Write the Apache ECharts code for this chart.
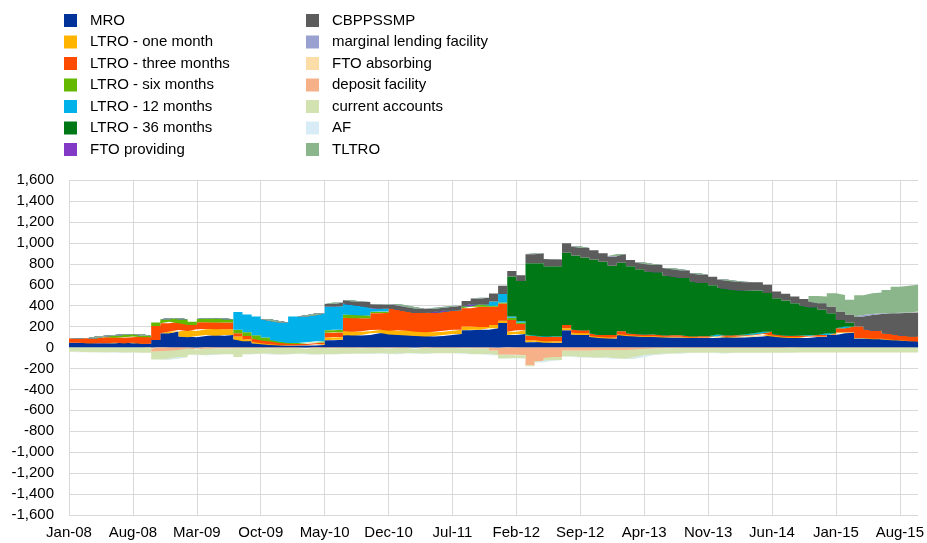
<!DOCTYPE html>
<html>
<head>
<meta charset="utf-8">
<title>liquidity</title>
<script src="https://cdn.jsdelivr.net/npm/echarts@6/dist/echarts.min.js"></script>
<style>
    html, body { margin: 0; padding: 0; background: #fff; }
    #main { width: 927px; height: 543px; }
</style>
</head>
<body>
<div id="main"></div>
<script>
// month categories Jan-08 .. Oct-15
let monthNames = ['Jan', 'Feb', 'Mar', 'Apr', 'May', 'Jun', 'Jul', 'Aug', 'Sep', 'Oct', 'Nov', 'Dec'];
let years = ['08', '09', '10', '11', '12', '13', '14', '15'];
let months = [];
for (let y = 0; y < years.length; y++) {
    for (let m = 0; m < 12; m++) {
        if (y === years.length - 1 && m > 9) break;
        months.push(monthNames[m] + '-' + years[y]);
    }
}

let yTicks = [-1600, -1400, -1200, -1000, -800, -600, -400, -200, 0, 200, 400, 600, 800, 1000, 1200, 1400, 1600];

// providing side (stacked above zero)
let mro = [45, 45, 40, 40, 40, 46, 40, 45, 35,
    72, 136, 152, 104, 97, 110, 120, 113, 120,
    78, 60, 40, 30, 24, 20, 18, 18, 20, 24, 70, 75,
    120, 115, 120, 135, 140, 125,
    120, 115, 110, 105, 110, 120, 130, 165, 170, 170, 185, 235,
    120, 130, 50, 55, 45, 45, 165, 125, 120, 100, 90, 85,
    120, 110, 105, 100, 100, 95, 95, 95, 90, 90, 90, 100,
    95, 95, 100, 105, 115, 105, 95, 90, 90, 100, 100, 120,
    135, 140, 85, 88, 80, 80, 70, 68, 60, 56];
let ltro1m = [0, 0, 0, 0, 0, 0, 0, 0, 0,
    0, 0, 0, 63, 61, 64, 57, 61, 54,
    28, 20, 15, 10, 8, 5, 3, 4, 5, 8, 25, 25,
    35, 35, 35, 32, 30, 35,
    45, 45, 40, 40, 40, 40, 40, 35, 30, 25, 30, 20,
    30, 35, 20, 15, 15, 15, 18, 15, 15, 10, 10, 10,
    10, 10, 8, 8, 8, 8, 8, 8, 5, 5, 5, 10,
    8, 8, 10, 12, 15, 10, 8, 8, 8, 5, 5, 5,
    10, 5, 5, 3, 3, 3, 3, 2, 2, 0];
let ltro3m = [40, 43, 48, 57, 57, 48, 58, 59, 62,
    134, 95, 95, 64, 57, 67, 64, 64, 64,
    30, 30, 30, 28, 25, 18, 15, 12, 15, 15, 45, 45,
    130, 130, 125, 160, 160, 215,
    195, 185, 180, 185, 190, 190, 185, 175, 190, 195, 175, 165,
    113, 60, 45, 40, 40, 40, 32, 30, 30, 25, 20, 25,
    25, 15, 15, 15, 15, 15, 15, 15, 12, 12, 12, 15,
    15, 15, 15, 18, 20, 15, 15, 15, 15, 15, 15, 10,
    38, 55, 110, 85, 77, 52, 55, 45, 45, 48];
let ltro6m = [0, 0, 0, 7, 16, 26, 28, 22, 13,
    32, 39, 32, 39, 32, 32, 38, 38, 32,
    34, 35, 33, 27, 15, 12, 8, 8, 10, 12, 25, 25,
    30, 30, 25, 15, 15, 0,
    0, 0, 0, 0, 0, 0, 0, 20, 20, 20, 10, 10,
    20, 15, 5, 0, 0, 0, 0, 0, 0, 0, 0, 0,
    0, 0, 0, 0, 0, 0, 0, 0, 0, 0, 0, 0,
    0, 0, 0, 0, 0, 0, 0, 0, 0, 0, 0, 0,
    0, 0, 0, 0, 0, 0, 0, 0, 0, 0];
let ltro12m = [0, 0, 0, 0, 0, 0, 0, 0, 0,
    0, 0, 0, 0, 0, 0, 0, 0, 0,
    170, 170, 177, 175, 180, 185, 251, 253, 258, 266, 225, 225,
    100, 95, 90, 30, 25, 0,
    0, 0, 0, 0, 0, 0, 0, 0, 0, 0, 40, 80,
    12, 10, 5, 5, 5, 5, 0, 0, 0, 0, 0, 0,
    0, 0, 0, 0, 0, 0, 0, 0, 0, 0, 0, 0,
    0, 0, 0, 0, 0, 0, 0, 0, 0, 0, 0, 0,
    0, 0, 0, 0, 0, 0, 0, 0, 0, 0];
let ltro36m = [0, 0, 0, 0, 0, 0, 0, 0, 0,
    0, 0, 0, 0, 0, 0, 0, 0, 0,
    0, 0, 0, 0, 0, 0, 0, 0, 0, 0, 0, 0,
    0, 0, 0, 0, 0, 0,
    0, 0, 0, 0, 0, 0, 0, 0, 0, 0, 0, 0,
    383, 385, 680, 690, 670, 670, 690, 710, 695, 705, 700, 660,
    655, 640, 620, 605, 595, 570, 560, 545, 525, 510, 488, 445,
    440, 430, 420, 410, 370, 340, 330, 310, 290, 265, 240, 192,
    80, 40, 0, 0, 0, 0, 0, 0, 0, 0];
let ftoProviding = [0, 0, 0, 0, 0, 0, 0, 0, 0,
    0, 0, 0, 0, 0, 0, 0, 0, 0,
    0, 0, 0, 0, 0, 0, 0, 0, 0, 0, 0, 0,
    5, 0, 0, 6, 0, 0,
    0, 0, 0, 0, 0, 0, 0, 0, 3, 0, 0, 0,
    0, 0, 0, 0, 0, 0, 0, 0, 0, 0, 0, 0,
    0, 0, 0, 0, 0, 0, 0, 0, 0, 0, 0, 0,
    0, 0, 0, 0, 0, 0, 0, 0, 0, 0, 0, 0,
    0, 0, 0, 0, 0, 0, 0, 0, 0, 0];
let cbppSmp = [0, 0, 0, 0, 0, 0, 0, 0, 0,
    0, 0, 0, 0, 0, 0, 0, 0, 0,
    0, 0, 0, 0, 0, 0, 0, 0, 0, 0, 25, 35,
    32, 35, 40, 35, 38, 40,
    40, 40, 40, 40, 40, 40, 45, 50, 55, 65, 75, 80,
    52, 55, 85, 95, 70, 65, 90, 85, 90, 90, 80, 90,
    80, 60, 65, 70, 70, 72, 70, 72, 78, 78, 80, 80,
    80, 80, 78, 78, 80, 65, 65, 64, 60, 55, 63, 64,
    80, 75, 95, 135, 160, 192, 200, 218, 228, 239];
let marginalLending = [0, 0, 0, 0, 0, 0, 0, 0, 0,
    0, 0, 0, 0, 0, 0, 0, 0, 0,
    0, 0, 0, 0, 0, 0, 0, 0, 0, 0, 0, 0,
    0, 0, 0, 0, 0, 0,
    3, 0, 0, 0, 0, 0, 0, 0, 0, 0, 0, 0,
    0, 0, 3, 0, 0, 0, 0, 0, 0, 0, 0, 5,
    3, 0, 0, 0, 0, 0, 0, 0, 0, 0, 0, 0,
    0, 0, 0, 0, 0, 0, 0, 0, 0, 0, 0, 0,
    0, 0, 0, 0, 0, 0, 0, 0, 0, 0];
let tltro = [0, 0, 0, 0, 0, 0, 0, 0, 0,
    0, 0, 0, 0, 0, 0, 0, 0, 0,
    0, 0, 0, 0, 0, 0, 0, 0, 0, 0, 0, 0,
    0, 0, 0, 0, 0, 0,
    0, 0, 0, 0, 0, 0, 0, 0, 0, 0, 0, 0,
    0, 0, 0, 0, 0, 0, 0, 0, 0, 0, 0, 0,
    0, 0, 0, 0, 0, 0, 0, 0, 0, 0, 0, 0,
    0, 0, 0, 0, 0, 0, 0, 0, 0, 53, 63, 127,
    159, 140, 205, 207, 205, 223, 252, 256, 265, 272];

// absorbing side (stacked below zero)
let ftoAbsorbing = [0, 0, 0, 0, 0, 0, 0, 0, 0,
    -10, 0, 0, 0, 0, -5, 0, 0, 0,
    0, 0, 0, 0, 0, 0, 0, 0, -5, 0, 0, 0,
    0, 0, 0, 0, 0, 0,
    0, 0, -5, 0, 0, 0, 0, 0, 0, 0, 0, -5,
    0, 0, 0, 0, 0, 0, 0, 0, 0, 0, 0, 0,
    0, 0, 0, 0, 0, 0, 0, 0, 0, 0, 0, 0,
    0, 0, 0, 0, 0, 0, 0, 0, 0, 0, 0, 0,
    0, 0, 0, 0, 0, 0, 0, 0, 0, 0];
let depositFacility = [0, 0, 0, 0, 0, 0, 0, 0, 0,
    -30, -35, -30, -25, -10, -15, -10, -10, -10,
    -10, -5, -5, -5, -8, -5, -5, -5, -8, -5, -5, -8,
    -5, -5, -8, -5, -5, -10,
    -5, -5, -8, -5, -5, -5, -5, -8, -10, -10, -30, -65,
    -70, -75, -170, -130, -100, -90, -30, -30, -30, -30, -25, -25,
    -25, -25, -20, -12, -10, -8, -8, -5, -5, -5, -5, -5,
    -5, -5, -5, -5, -5, -5, -5, -3, -3, -3, -3, -3,
    -3, -3, -3, -3, -3, -3, -3, -3, -3, -3];
let currentAccounts = [-40, -45, -45, -48, -45, -50, -48, -50, -50,
    -75, -80, -75, -65, -60, -55, -60, -55, -55,
    -80, -60, -55, -55, -60, -60, -55, -55, -55, -60, -60, -55,
    -55, -55, -55, -50, -55, -55,
    -50, -50, -50, -50, -50, -50, -50, -55, -55, -55, -45, -35,
    -30, -30, -10, -10, -25, -30, -55, -60, -65, -70, -70, -80,
    -85, -80, -70, -60, -55, -50, -50, -45, -45, -45, -45, -50,
    -45, -45, -45, -45, -45, -45, -45, -45, -45, -45, -45, -45,
    -45, -45, -45, -45, -45, -45, -45, -45, -45, -45];
let af = [0, 0, 0, 0, 0, 0, 0, 0, 0,
    0, 0, 0, 0, 0, 0, 0, 0, 0,
    0, 0, 0, 0, 0, 0, 0, 0, 0, 0, 0, 0,
    0, 0, 0, 0, 0, 0,
    0, 0, 0, 0, 0, 0, 0, 0, 0, 0, 0, 0,
    0, 0, 0, 0, 0, 0, 0, 0, 0, 0, 0, 0,
    0, 0, 0, 0, 0, 0, 0, 0, 0, 0, 0, 0,
    0, 0, 0, 0, 0, 0, 0, 0, 0, 0, 0, 0,
    0, 0, 0, 0, 0, 0, 0, 0, 0, 0];

let leftNames = ['MRO', 'LTRO - one month', 'LTRO - three months', 'LTRO - six months',
    'LTRO - 12 months', 'LTRO - 36 months', 'FTO providing'];
let rightNames = ['CBPPSSMP', 'marginal lending facility', 'FTO absorbing', 'deposit facility',
    'current accounts', 'AF', 'TLTRO'];

let font = 'Liberation Sans, Arial, sans-serif';

let makeArea = (name, data, color, stack) => {
    return {
        name: name,
        type: 'line',
        stack: stack,
        step: 'end',
        data: data,
        symbol: 'none',
        showSymbol: false,
        color: color,
        lineStyle: { width: 0 },
        areaStyle: { color: color, opacity: 1 },
        emphasis: { disabled: true },
        silent: true
    };
};

let legendBase = (names, left) => {
    return {
        data: names,
        orient: 'vertical',
        left: left,
        top: 13,
        padding: 0,
        itemWidth: 13,
        itemHeight: 13,
        itemGap: 6.5,
        icon: 'rect',
        selectedMode: false,
        textStyle: {
            fontFamily: font,
            fontSize: 15,
            lineHeight: 15,
            color: '#000',
            padding: [0, 0, 0, 8]
        }
    };
};

let myChart = echarts.init(document.getElementById('main'), null, { renderer: 'canvas' });
let option = {
    animation: false,
    backgroundColor: '#fff',
    legend: [legendBase(leftNames, 64), legendBase(rightNames, 306)],
    grid: {
        left: 69,
        right: 4,
        top: 180,
        bottom: 28,
        containLabel: false
    },
    xAxis: {
        type: 'category',
        data: months,
        boundaryGap: false,
        axisLine: { show: false },
        axisTick: { show: false },
        axisLabel: {
            interval: 6,
            fontFamily: font,
            fontSize: 15,
            color: '#000',
            margin: 10
        },
        splitLine: {
            show: true,
            interval: 6,
            lineStyle: { color: '#d9d9d9', width: 1 }
        }
    },
    yAxis: {
        type: 'value',
        min: yTicks[0],
        max: yTicks[yTicks.length - 1],
        interval: 200,
        axisLine: { show: false },
        axisTick: { show: false },
        axisLabel: {
            fontFamily: font,
            fontSize: 15,
            color: '#000',
            margin: 15,
            formatter: function (v) {
                return v.toLocaleString('en-US');
            }
        },
        splitLine: {
            show: true,
            lineStyle: { color: '#d9d9d9', width: 1 }
        }
    },
    series: [
        makeArea('MRO', mro, '#003299', 'pos'),
        makeArea('LTRO - one month', ltro1m, '#FFB400', 'pos'),
        makeArea('LTRO - three months', ltro3m, '#FF4B00', 'pos'),
        makeArea('LTRO - six months', ltro6m, '#65B800', 'pos'),
        makeArea('LTRO - 12 months', ltro12m, '#00B1EA', 'pos'),
        makeArea('LTRO - 36 months', ltro36m, '#007816', 'pos'),
        makeArea('FTO providing', ftoProviding, '#8139C6', 'pos'),
        makeArea('CBPPSSMP', cbppSmp, '#5C5C5C', 'pos'),
        makeArea('marginal lending facility', marginalLending, '#98A1D0', 'pos'),
        makeArea('TLTRO', tltro, '#8BB68B', 'pos'),
        makeArea('FTO absorbing', ftoAbsorbing, '#FDDDA7', 'neg'),
        makeArea('deposit facility', depositFacility, '#F6B189', 'neg'),
        makeArea('current accounts', currentAccounts, '#D2E2B0', 'neg'),
        makeArea('AF', af, '#D8ECF7', 'neg')
    ]
};
myChart.setOption(option);
</script>
</body>
</html>
